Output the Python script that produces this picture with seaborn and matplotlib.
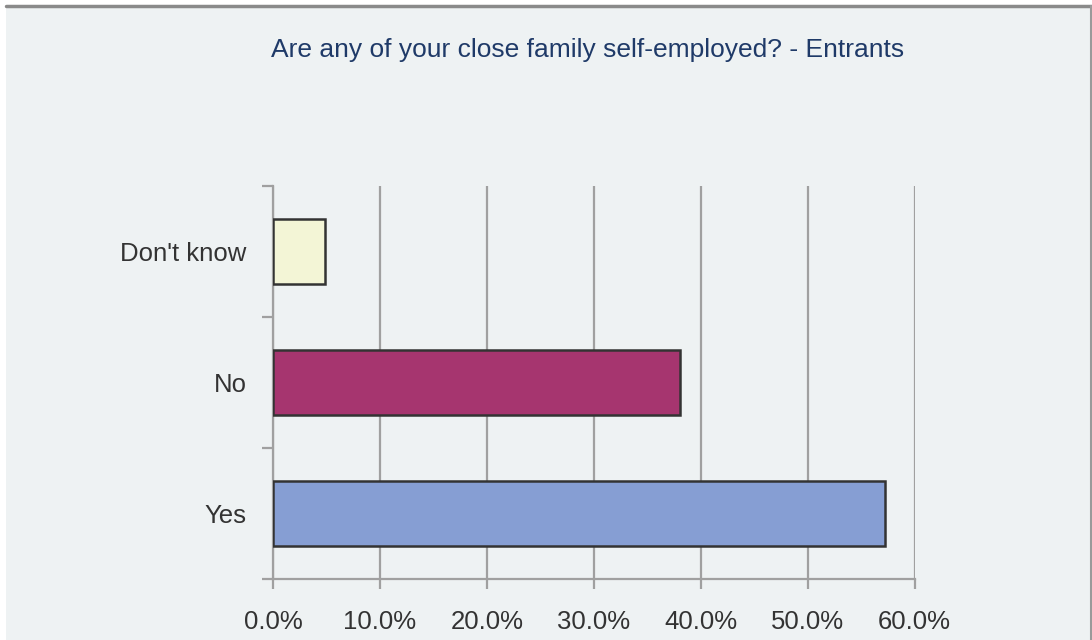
import matplotlib
matplotlib.use("Agg")
import matplotlib.pyplot as plt
from matplotlib.patches import Rectangle
from matplotlib.ticker import FuncFormatter, FixedLocator
import seaborn as sns
import pandas as pd

# Survey responses (share of entrants, %)
categories = ["Don't know", "No", "Yes"]
shares = [4.9, 38.1, 57.2]
bar_colors = ["#f3f5d6", "#a6356f", "#869ed3"]
x_ticks = [0, 10, 20, 30, 40, 50, 60]

sns.set_theme(style="white")
plt.rcParams["font.family"] = ["Liberation Sans", "DejaVu Sans"]

bg = "#eef2f3"
fig = plt.figure(figsize=(10.92, 6.4), dpi=100)
fig.patch.set_facecolor("white")
# panel background with grey top/right rule
fig.add_artist(Rectangle((6 / 1092, 0), 1084 / 1092, 634 / 640,
                         transform=fig.transFigure, facecolor=bg,
                         edgecolor="none", zorder=-10))
fig.add_artist(plt.Line2D([6 / 1092, 1], [634.5 / 640, 634.5 / 640],
                          transform=fig.transFigure, color="#8a8a8a", lw=2.5,
                          zorder=-5))
fig.add_artist(plt.Line2D([1090.5 / 1092, 1090.5 / 1092], [0, 634.5 / 640],
                          transform=fig.transFigure, color="#9a9a9a", lw=1.5,
                          zorder=-5))

ax = fig.add_axes([273 / 1092, 1 - 579 / 640, 641.7 / 1092, (579 - 186) / 640])
ax.set_zorder(1)
ax.set_facecolor(bg)

df = pd.DataFrame({"category": categories, "share": shares})
sns.barplot(data=df, x="share", y="category", hue="category",
            palette=bar_colors, order=categories, hue_order=categories,
            width=0.5, saturation=1, edgecolor="#333333", linewidth=1.8,
            legend=False, ax=ax, zorder=3)

ax.set_xlim(0, 60)
ax.set_ylim(2.5, -0.5)
ax.xaxis.set_major_locator(FixedLocator(x_ticks))
ax.xaxis.set_major_formatter(FuncFormatter(lambda v, p: f"{v:.1f}%"))
ax.grid(axis="x", color="#a0a0a0", lw=1.6, zorder=0)
ax.set_axisbelow(True)
ax.set_xlabel("")
ax.set_ylabel("")

for side in ("top", "right"):
    ax.spines[side].set_visible(False)
for side in ("left", "bottom"):
    ax.spines[side].set_color("#a0a0a0")
    ax.spines[side].set_linewidth(1.6)

ax.tick_params(axis="x", which="major", bottom=True, length=7, width=1.6,
               color="#a0a0a0", labelsize=18.5, labelcolor="#333333", pad=15,
               direction="out")
ax.tick_params(axis="y", which="major", left=False, length=0, labelsize=18.5,
               labelcolor="#333333", pad=19)
ax.yaxis.set_minor_locator(FixedLocator([-0.5, 0.5, 1.5, 2.5]))
ax.tick_params(axis="y", which="minor", left=True, length=8, width=1.6,
               color="#a0a0a0", direction="out")

fig.text(588 / 1092, 1 - 50 / 640,
         "Are any of your close family self-employed? - Entrants",
         ha="center", va="center", fontsize=19, color="#1f3a68")

fig.savefig("out.png", dpi=100, facecolor=fig.get_facecolor())
